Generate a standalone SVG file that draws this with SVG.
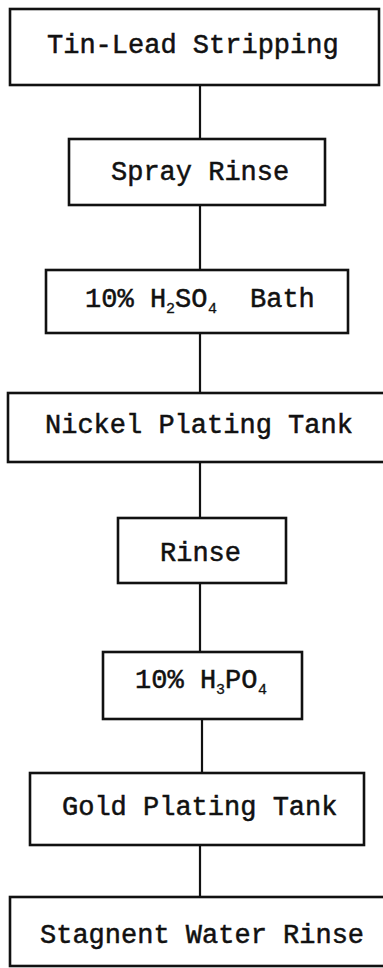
<svg xmlns="http://www.w3.org/2000/svg" width="383" height="968" viewBox="0 0 383 968">
<style>
rect{fill:#fff;stroke:#111;stroke-width:2.6}
line{stroke:#111;stroke-width:2.2}
text{font-family:"Liberation Mono","Courier New",monospace;font-size:27px;fill:#111;stroke:#111;stroke-width:0.5}
.s{font-size:15px;stroke-width:0.3}
</style>
<rect x="0" y="0" width="383" height="968" style="stroke:none"/>
<g id="connectors">
<line x1="200" y1="85" x2="200" y2="139"/>
<line x1="200" y1="205" x2="200" y2="270"/>
<line x1="200" y1="333" x2="200" y2="393"/>
<line x1="200" y1="462" x2="200" y2="518"/>
<line x1="200" y1="583" x2="200" y2="652"/>
<line x1="202" y1="719" x2="202" y2="773"/>
<line x1="200" y1="845" x2="200" y2="897"/>
</g>
<g id="n1"><rect x="10" y="9" width="369" height="76"/><text x="47" y="53">Tin-Lead Stripping</text></g>
<g id="n2"><rect x="69" y="139" width="256" height="66"/><text x="111" y="180">Spray Rinse</text></g>
<g id="n3"><rect x="46" y="270" width="302" height="63"/><text x="85" y="307">10% <tspan x="150">H</tspan><tspan class="s" x="166" dy="6">2</tspan><tspan x="175" dy="-6">SO</tspan><tspan class="s" x="208" dy="6">4</tspan><tspan x="250" dy="-6">Bath</tspan></text></g>
<g id="n4"><rect x="8" y="393" width="390" height="69"/><text x="45" y="433">Nickel Plating Tank</text></g>
<g id="n5"><rect x="118" y="518" width="168" height="65"/><text x="160" y="561">Rinse</text></g>
<g id="n6"><rect x="103" y="652" width="199" height="67"/><text x="135" y="688">10% <tspan x="200">H</tspan><tspan class="s" x="216" dy="6">3</tspan><tspan x="225" dy="-6">PO</tspan><tspan class="s" x="258" dy="6">4</tspan></text></g>
<g id="n7"><rect x="30" y="773" width="334" height="72"/><text x="62" y="815">Gold Plating Tank</text></g>
<g id="n8"><rect x="10" y="897" width="390" height="69"/><text x="40" y="943">Stagnent Water Rinse</text></g>
</svg>
